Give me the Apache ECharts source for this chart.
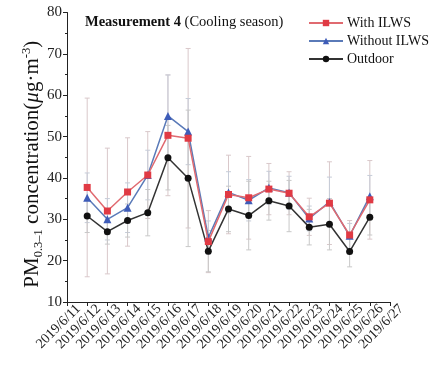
<!DOCTYPE html>
<html><head><meta charset="utf-8">
<script src="https://cdn.jsdelivr.net/npm/echarts@6/dist/echarts.min.js"></script>
<style>html,body{margin:0;padding:0;background:#fff}#c{width:439px;height:371px}</style>
</head><body><div id="c"></div>
<script>
const categories = ['2019/6/11','2019/6/12','2019/6/13','2019/6/14','2019/6/15','2019/6/16','2019/6/17','2019/6/18','2019/6/19','2019/6/20','2019/6/21','2019/6/22','2019/6/23','2019/6/24','2019/6/25','2019/6/26','2019/6/27'];
const withILWS    = [null,37.7,32.0,36.6,40.7,50.3,49.6,24.6,36.0,35.2,37.3,36.3,30.6,33.9,26.2,34.7,null];
const withoutILWS = [null,35.2,30.0,32.8,40.7,55.0,51.2,25.6,36.5,34.6,37.6,36.4,30.2,34.2,26.0,35.6,null];
const outdoor     = [null,30.8,27.0,29.7,31.6,44.9,39.9,22.3,32.5,30.9,34.5,33.2,28.1,28.8,22.2,30.5,null];
const sdWith      = [null,21.6,15.2,13.1,10.5,14.6,21.7,7.5,9.5,10.0,6.2,5.2,4.5,10.0,3.5,9.5,null];
const sdWithout   = [null,6.0,5.0,6.0,6.0,9.9,8.0,4.0,5.0,5.0,4.0,4.0,3.0,6.0,3.0,5.0,null];
const sdOutdoor   = [null,4.0,3.0,4.0,5.6,7.8,16.5,5.0,5.5,8.3,4.7,6.2,4.3,6.2,3.7,4.3,null];
const yTicks = {min:10, max:80, interval:10};

const FONT = "'Liberation Serif','Times New Roman',serif";

function errData(vals, sds){
  const out = [];
  vals.forEach((v,i)=>{ if(v!=null && sds[i]!=null) out.push([i, v - sds[i], v + sds[i]]); });
  return out;
}
function errSeries(vals, sds, color){
  return {
    type:'custom', z:1, silent:true,
    data: errData(vals, sds),
    renderItem: function(params, api){
      const lo = api.coord([api.value(0), api.value(1)]);
      const hi = api.coord([api.value(0), api.value(2)]);
      const w = 2.5;
      const st = {stroke: color, lineWidth: 1};
      return {type:'group', children:[
        {type:'line', shape:{x1:hi[0],y1:hi[1],x2:lo[0],y2:lo[1]}, style:st},
        {type:'line', shape:{x1:hi[0]-w,y1:hi[1],x2:hi[0]+w,y2:hi[1]}, style:st},
        {type:'line', shape:{x1:lo[0]-w,y1:lo[1],x2:lo[0]+w,y2:lo[1]}, style:st}
      ]};
    }
  };
}

const chart = echarts.init(document.getElementById('c'), null, {renderer:'canvas'});
chart.setOption({
  animation:false,
  backgroundColor:'#fff',
  textStyle:{fontFamily:FONT},
  title:{
    text:'{b|Measurement 4} (Cooling season)',
    left:80, top:10,
    textStyle:{fontFamily:FONT, fontSize:14.5, fontWeight:'normal', color:'#111',
      rich:{b:{fontFamily:FONT, fontSize:14.5, fontWeight:'bold', color:'#111'}}}
  },
  legend:{
    orient:'vertical', left:303, top:11,
    itemWidth:34, itemHeight:8, itemGap:4,
    textStyle:{fontFamily:FONT, fontSize:14, color:'#111', padding:[0,0,0,-1]},
    data:['With ILWS','Without ILWS','Outdoor']
  },
  grid:{left:67, right:49, top:12.5, bottom:69, outerBoundsMode:'none', containLabel:false},
  xAxis:{
    type:'category', data:categories, boundaryGap:false,
    axisLine:{lineStyle:{color:'#222', width:1}},
    axisTick:{show:true, inside:false, length:4, alignWithLabel:true, lineStyle:{color:'#222'}},
    axisLabel:{rotate:45, interval:0, fontFamily:FONT, fontSize:14, color:'#222', margin:6,
      verticalAlign:'top', padding:[0,-9,0,0]},
    splitLine:{show:false}
  },
  yAxis:{
    type:'value', min:yTicks.min, max:yTicks.max, interval:yTicks.interval,
    name:'{a|PM}{s|0.3–1}{a| concentration(}{i|μ}{a|g·m}{p|-3}{a|)}',
    nameLocation:'middle', nameGap:22, nameRotate:90, nameMoveOverlap:false,
    nameTextStyle:{fontFamily:FONT, fontSize:21, color:'#111', padding:[0,14,0,0],
      rich:{
        a:{fontFamily:FONT, fontSize:21, color:'#111', lineHeight:25},
        i:{fontFamily:FONT, fontSize:21, fontStyle:'italic', color:'#111', lineHeight:25},
        s:{fontFamily:FONT, fontSize:12.5, color:'#111', verticalAlign:'bottom', lineHeight:25, padding:[7,0,0,0]},
        p:{fontFamily:FONT, fontSize:12.5, color:'#111', verticalAlign:'top', lineHeight:25, padding:[0,0,7,0]}
      }},
    axisLine:{show:true, lineStyle:{color:'#222', width:1}},
    axisTick:{show:true, inside:false, length:4, lineStyle:{color:'#222'}},
    minorTick:{show:true, splitNumber:2, length:2, lineStyle:{color:'#222'}},
    axisLabel:{fontFamily:FONT, fontSize:15, color:'#222', margin:5},
    splitLine:{show:false}
  },
  series:[
    errSeries(withILWS, sdWith, '#d9c8ca'),
    errSeries(withoutILWS, sdWithout, '#c6ccd8'),
    errSeries(outdoor, sdOutdoor, '#c8c8c8'),
    {name:'Outdoor', type:'line', data:outdoor, z:3, symbol:'circle', symbolSize:7,
      itemStyle:{color:'#111'}, lineStyle:{color:'#333', width:1.5}},
    {name:'Without ILWS', type:'line', data:withoutILWS, z:4, symbol:'triangle', symbolSize:8,
      itemStyle:{color:'#3e5cb8'}, lineStyle:{color:'#5a7ab8', width:1.5}},
    {name:'With ILWS', type:'line', data:withILWS, z:5, symbol:'rect', symbolSize:7,
      itemStyle:{color:'#e03a44'}, lineStyle:{color:'#e06a70', width:1.5}}
  ]
});
</script></body></html>
